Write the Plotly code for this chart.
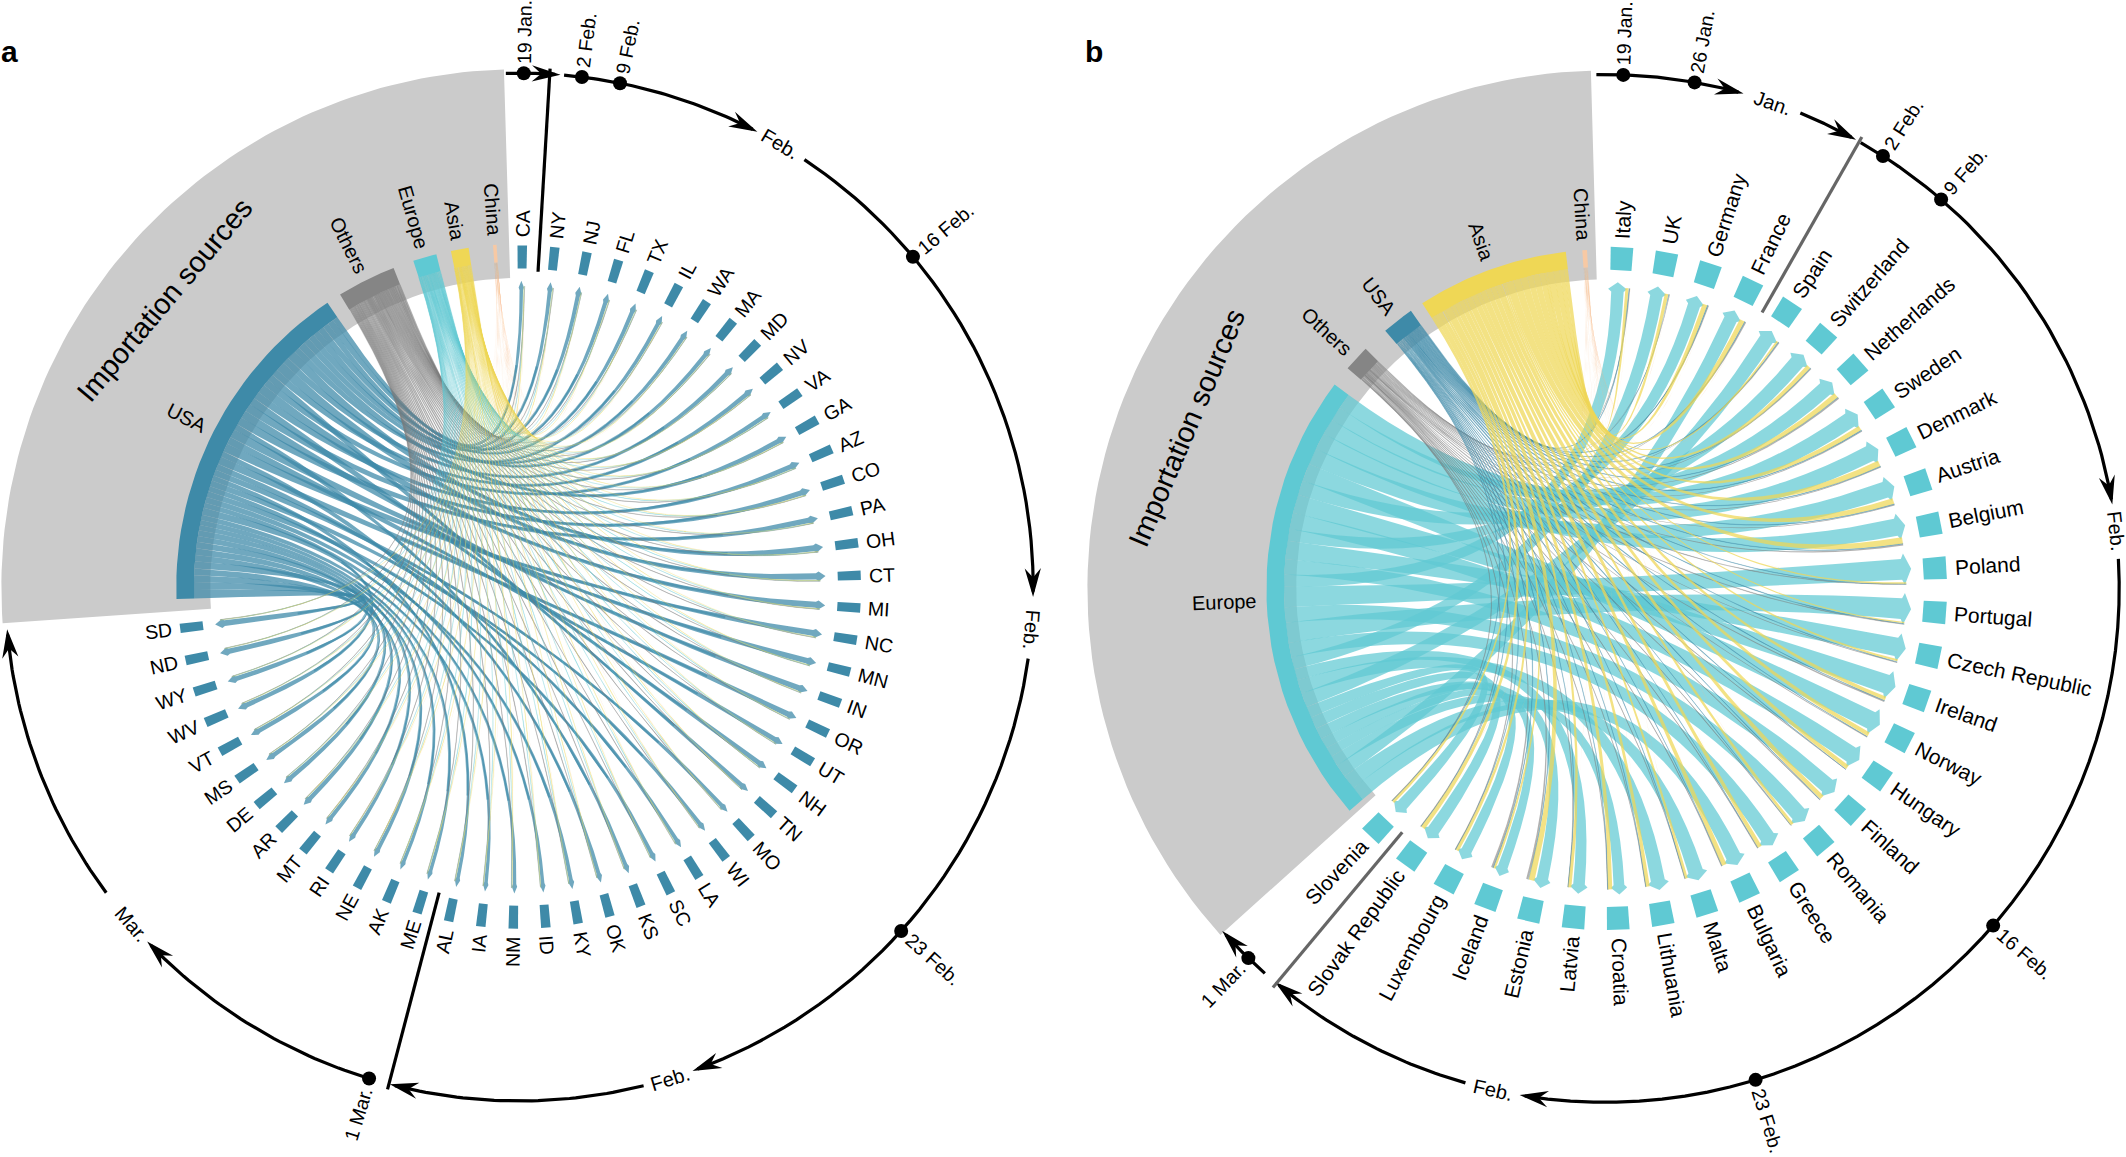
import math
import plotly.graph_objects as go

# ---------- panel a data ----------
states = ["CA","NY","NJ","FL","TX","IL","WA","MA","MD","NV","VA","GA","AZ","CO","PA","OH","CT","MI","NC","MN","IN","OR","UT","NH","TN","MO","WI","LA","SC","KS","OK","KY","ID","NM","IA","AL","ME","AK","NE","RI","MT","AR","DE","MS","VT","WV","WY","ND","SD"]
a_usa = [.85,.95,1.0,1.0,1.0,1.0,1.0,1.0,1.1,1.1,1.1,1.2,1.2,1.3,1.3,1.45,1.55,1.45,1.4,1.4,1.3,1.3,1.2,1.2,1.1,1.0,1.0,1.0,1.0,.95,.95,.95,.85,.85,.85,.85,.85,.85,.95,.95,1.0,1.1,1.1,1.1,1.1,1.2,1.2,1.3,1.4]
a_europe = [.05,.06,.04,.05,.04,.04,.03,.05,.04,.03,.04,.03,.03,.04,.04,.03,.05,.03,.04,.03,.03,.04,.03,.04,.03,.03,.02,.03,.03,.02,.02,.03,.02,.02,.02,.02,.03,.02,.02,.03,.02,.02,.03,.02,.03,.02,.02,.02,.02]
a_asia = [.08,.05,.03,.03,.04,.03,.05,.04,.03,.03,.03,.03,.03,.04,.03,.03,.05,.03,.03,.03,.03,.04,.03,.02,.02,.03,.02,.02,.02,.02,.02,.02,.02,.09,.02,.02,.02,.02,.02,.02,.02,.02,.02,.02,.02,.02,.02,.02,.02]
a_others = [.08,.08,.06,.07,.08,.06,.06,.07,.06,.06,.06,.06,.07,.06,.06,.06,.06,.06,.06,.06,.06,.06,.06,.05,.06,.06,.05,.05,.05,.05,.05,.05,.05,.05,.05,.05,.05,.05,.05,.05,.05,.05,.05,.05,.05,.05,.05,.05,.05]
a_china = [.02,.01,.01,.01,.01,.01,.02,.01,.01,.01,.01,.01,.01,.01,.01,.01,.01,.01,.01,.01,.01,.01,.01,.01,.01,.01,.01,.01,.01,.01,.01,.01,.01,.01,.01,.01,.01,.01,.01,.01,.01,.01,.01,.01,.01,.01,.01,.01,.01]
a_usa_order = ["CA","FL","NY","TX","NJ","MA","WA","GA","IL","OH","MD","CT","NV","TN","VA","MI","AZ","NH","CO","IN","PA","KS","MN","UT","NC","OK","OR","LA","MO","AL","WI","ID","SC","KY","NM","WV","IA","ME","AK","RI","NE","DE","AR","MT","WY","MS","VT","ND","SD"]
a_sources = ["USA","Others","Europe","Asia","China"]
a_source_spans = [(-92,-34),(-31.5,-21.5),(-18,-14),(-11.5,-8.5),(-4.4,-3.8)]
a_date_labels = ["19 Jan.","2 Feb.","9 Feb.","16 Feb.","23 Feb.","1 Mar."]
a_date_angles = [0.5,7,11.3,50,132,197]
a_month_labels = ["Feb.","Feb.","Feb.","Mar."]
a_month_angles = [30.5,94.8,163,229]
a_arcs = [(-1.5,4,True),(5,27,True),(33.7,90.5,True),(98,159.7,True),(166,194,True),(197,225.8,True),(233.5,264.7,True)]
a_dividers = [3.4,194.7]

# ---------- panel b data ----------
countries = ["Italy","UK","Germany","France","Spain","Switzerland","Netherlands","Sweden","Denmark","Austria","Belgium","Poland","Portugal","Czech Republic","Ireland","Norway","Hungary","Finland","Romania","Greece","Bulgaria","Malta","Lithuania","Croatia","Latvia","Estonia","Iceland","Luxembourg","Slovak Republic","Slovenia"]
b_europe = [3.0,3.0,3.0,3.2,3.5,3.6,3.6,3.8,3.9,4.0,4.2,5.0,5.0,4.5,4.6,4.4,4.0,3.8,3.8,3.6,3.6,3.6,3.4,2.6,2.8,2.8,2.4,2.6,3.0,2.8]
b_asia = [.6,.7,.9,1.0,.4,.8,1.0,.9,1.1,1.1,1.2,.3,.25,.4,.7,.8,.8,.9,.6,.8,.9,.5,.7,.8,.6,1.1,.4,.6,.8,.5]
b_usa = [.1,.15,.15,.1,.1,.1,.1,.15,.1,.1,.1,.05,.1,.1,.1,.1,.1,.1,.05,.05,.05,.05,.05,.05,.05,.1,.1,.05,.05,.05]
b_others = [.2,.15,.2,.25,.2,.2,.3,.2,.2,.2,.3,.05,.1,.2,.3,.2,.1,.1,.1,.1,.1,.05,.05,.05,.05,.4,.4,.1,.1,.1]
b_china = [.03,.03,.02,.02,.02,.02,.02,.02,.02,.02,.02,.01,.01,.02,.02,.02,.01,.01,.01,.01,.01,.01,.01,.01,.01,.01,.01,.01,.01,.01]
b_europe_order = ["Sweden","Netherlands","Denmark","Belgium","Austria","Norway","Switzerland","Ireland","Hungary","Germany","Czech Republic","Finland","Italy","Poland","Romania","Portugal","Greece","UK","Latvia","Lithuania","Spain","Slovenia","Slovak Republic","Estonia","Luxembourg","Iceland","Croatia","France","Malta","Bulgaria"]
b_sources = ["Europe","Others","USA","Asia","China"]
b_source_spans = [(-131,-53),(-49.5,-45),(-40.5,-35),(-32.7,-6.7),(-3.9,-3.1)]
b_date_labels = ["19 Jan.","26 Jan.","2 Feb.","9 Feb.","16 Feb.","23 Feb.","1 Mar."]
b_date_angles = [2,10,32.7,40.8,131,163,224]
b_month_labels = ["Jan.","Feb.","Feb."]
b_month_angles = [19,83.6,192.6]
b_arcs = [(-1,15,True),(22.3,28.6,True),(29.8,80,True),(86.7,189,True),(195.8,219.4,True),(221.5,227.6,True)]
b_dividers = [29.6,219.8]

# ---------- style ----------
S = 2126 / 1568
FONT = "Liberation Sans"
GREY = "#cbcbcb"
SOLID = {"USA": "#3e8aa8", "Europe": "#5fc9d3", "Asia": "#efd755", "Others": "#858585", "China": "#f7c9a4"}
RIB = {"USA": "rgba(62,138,168,0.74)", "Europe": "rgba(95,201,211,0.72)", "Asia": "rgba(239,215,85,0.72)",
       "Others": "rgba(125,125,125,0.6)", "China": "rgba(247,190,140,0.4)"}
THIN = {"USA": "rgba(62,138,168,0.6)", "Europe": "rgba(95,201,211,0.45)", "Asia": "rgba(239,215,85,0.4)",
        "Others": "rgba(120,120,120,0.6)", "China": "rgba(247,190,140,0.25)"}
HW = {' ':278,'.':278,'A':667,'B':667,'C':722,'D':722,'E':667,'F':611,'G':778,'H':722,'I':278,'J':500,'K':667,'L':556,'M':833,'N':722,'O':778,'P':667,'Q':778,'R':722,'S':667,'T':611,'U':722,'V':667,'W':944,'X':667,'Y':667,'Z':611,
      'a':556,'b':556,'c':500,'d':556,'e':556,'f':278,'g':556,'h':556,'i':222,'j':222,'k':500,'l':222,'m':833,'n':556,'o':556,'p':556,'q':556,'r':333,'s':500,'t':278,'u':556,'v':500,'w':722,'x':500,'y':500,'z':500}
def twidth(t, size):
    return sum(HW.get(c, 556) for c in t) * size / 1000

fig = go.Figure()
annos = []

def pol(c, r, th):
    t = math.radians(th)
    return c[0] + r * S * math.sin(t), c[1] - r * S * math.cos(t)

def poly(pts, color, outline=0, outline_color=None):
    fig.add_trace(go.Scatter(x=[p[0] for p in pts] + [pts[0][0]], y=[p[1] for p in pts] + [pts[0][1]],
                             mode="lines", fill="toself", fillcolor=color, line=dict(width=outline, color=outline_color or color),
                             hoverinfo="skip", showlegend=False))

def line(pts, color, w):
    fig.add_trace(go.Scatter(x=[p[0] for p in pts], y=[p[1] for p in pts], mode="lines",
                             line=dict(color=color, width=w), hoverinfo="skip", showlegend=False))

def arc(c, r, a, b, n=40):
    return [pol(c, r, a + (b - a) * i / n) for i in range(n + 1)]

def text(x, y, t, size, rot, bold=False):
    annos.append(dict(x=x, y=y, xref="x", yref="y", text=("<b>%s</b>" % t) if bold else t, showarrow=False,
                      xanchor="center", yanchor="middle", textangle=rot,
                      font=dict(family=FONT, size=size, color="black")))

def radial(c, r0, th, t, size):
    w = twidth(t, size) / S
    x, y = pol(c, r0 + w / 2, th)
    a = th % 360
    rot = a - 90 if a < 180 else a - 270
    text(x, y, t, size, rot)

def tangent(c, r, th, t, size):
    x, y = pol(c, r, th)
    a = th % 360
    rot = a if (a < 120 or a > 300) else a - 180
    text(x, y, t, size, rot)

def bez(p0, p1, c, n=26):
    out = []
    for i in range(n + 1):
        u = i / n
        out.append(((1-u)**2*p0[0] + 2*u*(1-u)*c[0] + u*u*p1[0], (1-u)**2*p0[1] + 2*u*(1-u)*c[1] + u*u*p1[1]))
    return out

def ribbon(c, r_s, s_hi, s_lo, r_d, d_lo, d_hi, src, head, core, keep):
    s1, s2 = pol(c, r_s, s_hi), pol(c, r_s, s_lo)
    rd = r_d - 3 if head else r_d
    sh = 0.1 * (d_hi - d_lo) if head else 0
    d1, d2 = pol(c, rd, d_lo + sh), pol(c, rd, d_hi - sh)
    # the two edges bend round control points set slightly apart, so the ribbon keeps its body at mid-length
    mx, my = (s2[0] + d2[0] - s1[0] - d1[0]), (s2[1] + d2[1] - s1[1] - d1[1])
    norm = math.hypot(mx, my) or 1
    c1 = (c[0] - mx / norm * keep, c[1] - my / norm * keep)
    c2 = (c[0] + mx / norm * keep, c[1] + my / norm * keep)
    pts = bez(s1, d1, c1)
    if head:
        m = (d_lo + d_hi) / 2
        pts.append(pol(c, r_d - 1, d_lo - sh))
        pts.append(pol(c, r_d + 4, m))
        pts.append(pol(c, r_d - 1, d_hi + sh))
    pts += bez(d2, s2, c2)
    pts += arc(c, r_s, s_lo, s_hi, 4)[1:-1]
    thin = (d_hi - d_lo) < 0.15
    poly(pts, RIB[src], 0.45 if thin and src != "China" else 0, THIN[src])
    if head and core:
        mid = bez(pol(c, r_s, (s_hi + s_lo) / 2), pol(c, r_d, (d_lo + d_hi) / 2), c)
        line(mid[8:23], "rgba(62,138,168,0.6)", 2.2)

def panel(c, grey, names, first, step, tick_w, src_names, spans, values, order, r_out, dates, months, arcs, dividers, div_color, div_r, imp, letter, core, keep, label_size):
    R = 379
    poly(arc(c, 382, grey[1], grey[0], 80) + arc(c, 228, grey[0], grey[1], 60), GREY)
    ang = {n: first + step * i for i, n in enumerate(names)}
    total = {n: sum(values[s][i] for s in src_names) for i, n in enumerate(names)}
    dest_order = list(dict.fromkeys([src_names[0], "Asia", "USA", "Europe", "Others", "China"]))
    for s, (lo, hi) in zip(src_names, spans):
        vals = values[s]
        seq = order if s == src_names[0] else names
        tot = sum(vals[names.index(n)] for n in seq)
        pos = hi
        for n in seq:
            i = names.index(n)
            seg = vals[i] / tot * (hi - lo)
            d0 = ang[n] - total[n] / 2
            for o in dest_order:
                if o == s:
                    break
                d0 += values[o][i]
            ribbon(c, r_out - 13, pos, pos - seg, 222, d0, d0 + vals[i], s, s == src_names[0], core, keep.get(s, 0))
            pos -= seg
    for s, (lo, hi) in zip(src_names, spans):
        poly(arc(c, r_out, lo, hi, 30) + arc(c, r_out - 13, hi, lo, 30), SOLID[s])
        mid = (lo + hi) / 2
        if s in src_names[:1]:
            mid = lo + (hi - lo) * imp[3]
        radial(c, r_out + 7, mid, s, 20)
    for n in names:
        th = ang[n]
        poly(arc(c, 252, th - tick_w / 2, th + tick_w / 2, 4) + arc(c, 235, th + tick_w / 2, th - tick_w / 2, 4), SOLID[src_names[0]])
        radial(c, 258, th, n, label_size)
    for a0, a1, has_head in arcs:
        line(arc(c, R, a0, a1), "black", 3.2)
        if has_head:
            d = 2.6
            poly([pol(c, R, a1 + 0.6), pol(c, R + 6, a1 - d), pol(c, R, a1 - d * 0.6), pol(c, R - 6, a1 - d)], "black")
    xs, ys = zip(*[pol(c, R, a) for a in dates[1]])
    fig.add_trace(go.Scatter(x=xs, y=ys, mode="markers", marker=dict(color="black", size=14), hoverinfo="skip", showlegend=False))
    for t, a in zip(*dates):
        radial(c, R + 7, a, t, 19.5)
    for t, a in zip(*months):
        tangent(c, R, a, t, 20)
    for a in dividers:
        line([pol(c, div_r[0], a), pol(c, div_r[1], a)], div_color, 3.2)
    x, y = pol(c, imp[0], imp[1])
    text(x, y, "Importation sources", 29, imp[2])
    text(letter[1] * S, 38 * S, letter[0], 30, 0, True)

panel((383 * S, 433 * S), (-94, -1.7), states, 0.5, 5.47, 1.6, a_sources, a_source_spans,
      {"USA": a_usa, "Europe": a_europe, "Asia": a_asia, "Others": a_others, "China": a_china}, a_usa_order, 253,
      (a_date_labels, a_date_angles), (a_month_labels, a_month_angles), a_arcs, a_dividers, "black", (383, 233),
      (337, -51, -50, 0.5), ("a", 7), True, {}, 19.5)

panel((1184 * S, 434 * S), (-132, -1.6), countries, 2.8, 7.61, 3.8, b_sources, b_source_spans,
      {"Europe": b_europe, "Asia": b_asia, "USA": b_usa, "Others": b_others, "China": b_china}, b_europe_order, 250,
      (b_date_labels, b_date_angles), (b_month_labels, b_month_angles), b_arcs, b_dividers, "#666666", (383, 234),
      (331, -69, -67, 0.5), ("b", 807), False, {"Europe": 5, "Asia": 0.4}, 21)

fig.update_layout(width=2126, height=1157, margin=dict(l=0, r=0, t=0, b=0), plot_bgcolor="white", paper_bgcolor="white",
                  showlegend=False, annotations=annos,
                  xaxis=dict(range=[0, 2126], visible=False, fixedrange=True),
                  yaxis=dict(range=[1157, 0], visible=False, fixedrange=True))
fig.write_html("out.html", config={"displayModeBar": False},
               post_script="document.body.style.margin='0';document.body.style.overflow='hidden';")
